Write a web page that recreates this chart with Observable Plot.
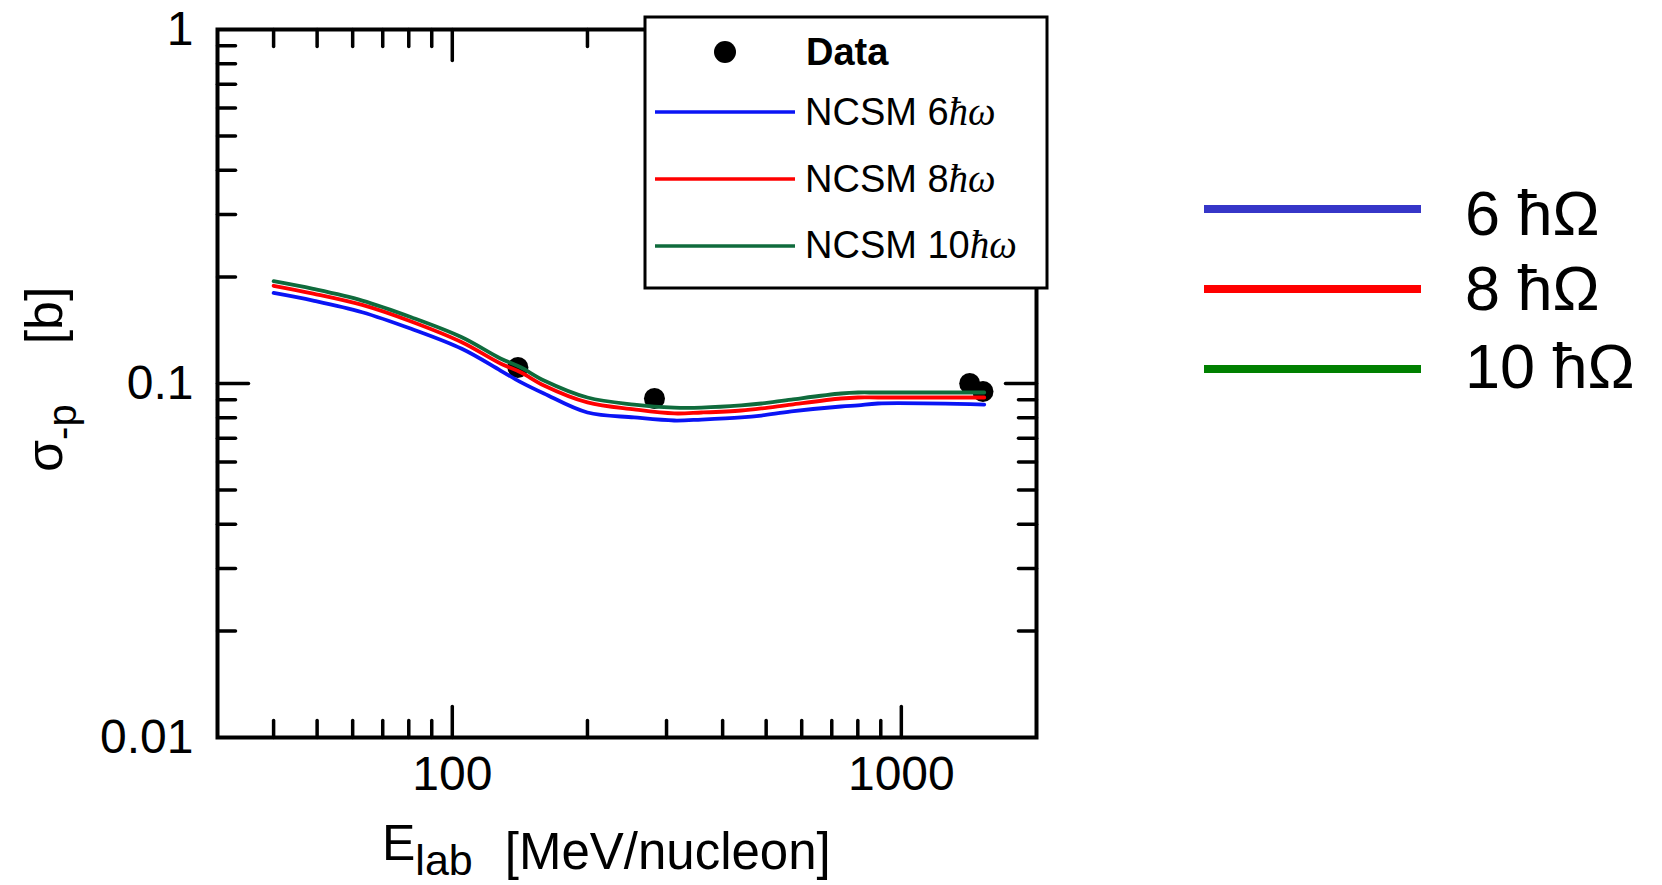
<!DOCTYPE html>
<html>
<head>
<meta charset="utf-8">
<script src="https://cdn.jsdelivr.net/npm/d3@7"></script>
<script src="https://cdn.jsdelivr.net/npm/@observablehq/plot@0.6"></script>
<style>
  html, body { margin: 0; padding: 0; background: #ffffff; }
  #chart svg { display: block; }
</style>
</head>
<body>
<div id="chart"></div>
<script>
// ---- data ----
const energies = [40, 49, 63, 81, 105, 128, 142, 160, 200, 254, 312, 359, 440, 488, 569, 734, 801, 887, 1530];
const sigma6  = [0.1802, 0.1715, 0.1590, 0.1427, 0.1253, 0.1088, 0.1009, 0.0937, 0.0828, 0.0802, 0.0786, 0.0791, 0.0802, 0.0812, 0.0834, 0.0861, 0.0867, 0.0878, 0.0872];
const sigma8  = [0.1888, 0.1795, 0.1667, 0.1497, 0.1308, 0.1139, 0.1076, 0.0987, 0.0884, 0.0845, 0.0823, 0.0828, 0.0839, 0.0850, 0.0872, 0.0907, 0.0913, 0.0913, 0.0913];
const sigma10 = [0.1945, 0.1850, 0.1715, 0.1539, 0.1351, 0.1177, 0.1111, 0.1020, 0.0913, 0.0872, 0.0855, 0.0855, 0.0867, 0.0878, 0.0901, 0.0937, 0.0943, 0.0943, 0.0943];
const dataE     = [140, 282, 1420, 1520];
const dataSigma = [0.111, 0.0907, 0.100, 0.0949];
const models = ["NCSM 6", "NCSM 8", "NCSM 10"];
const modelColors = ["#0a14f5", "#ff0000", "#0f6b3c"];
const sideLabels = ["6 ħΩ", "8 ħΩ", "10 ħΩ"];
const sideColors = ["#3636c8", "#ff0000", "#008000"];
const xTickLabels = [100, 1000];
const yTickLabels = [0.01, 0.1, 1];
const xMajorTicks = [100, 1000];
const xMinorTicks = [40, 50, 60, 70, 80, 90, 200, 300, 400, 500, 600, 700, 800, 900];
const yMajorTicks = [0.1];
const yMinorTicks = [0.02, 0.03, 0.04, 0.05, 0.06, 0.07, 0.08, 0.09, 0.2, 0.3, 0.4, 0.5, 0.6, 0.7, 0.8, 0.9];
const xDomain = [30, 2000];
const yDomain = [0.01, 1];

// ---- tables ----
const series = [sigma6, sigma8, sigma10];
const curves = [];
series.forEach((vals, k) => vals.forEach((v, i) => curves.push({E: energies[i], sigma: v, model: models[k]})));
const points = dataE.map((e, i) => ({E: e, sigma: dataSigma[i]}));

const tickShape = {draw(context, l) { context.moveTo(0, 0); context.lineTo(0, -l); }};
const tickStyle = {shape: tickShape, anchor: "start", stroke: "black", strokeWidth: 3.5};
const FONT = "'Liberation Sans', Arial, Helvetica, sans-serif";

const chart = Plot.plot({
  width: 1662,
  height: 885,
  marginLeft: 217,
  marginRight: 626,
  marginTop: 29,
  marginBottom: 148,
  style: {fontFamily: FONT, background: "white", color: "black"},
  x: {type: "log", domain: xDomain},
  y: {type: "log", domain: yDomain},
  color: {domain: models, range: modelColors},
  marks: [
    Plot.axisX({ticks: xTickLabels, tickSize: 0, tickPadding: 18, fontSize: 48, tickFormat: d => String(d), label: null}),
    Plot.axisY({ticks: yTickLabels, tickSize: 0, tickPadding: 24, fontSize: 48, tickFormat: d => String(d), label: null}),
    // inward ticks on all four sides
    Plot.vector(xMinorTicks, {x: d => d, frameAnchor: "bottom", length: 17, rotate: 0, ...tickStyle}),
    Plot.vector(xMajorTicks, {x: d => d, frameAnchor: "bottom", length: 31, rotate: 0, ...tickStyle}),
    Plot.vector(xMinorTicks, {x: d => d, frameAnchor: "top", length: 17, rotate: 180, ...tickStyle}),
    Plot.vector(xMajorTicks, {x: d => d, frameAnchor: "top", length: 31, rotate: 180, ...tickStyle}),
    Plot.vector(yMinorTicks, {y: d => d, frameAnchor: "left", length: 18, rotate: 90, ...tickStyle}),
    Plot.vector(yMajorTicks, {y: d => d, frameAnchor: "left", length: 31, rotate: 90, ...tickStyle}),
    Plot.vector(yMinorTicks, {y: d => d, frameAnchor: "right", length: 18, rotate: -90, ...tickStyle}),
    Plot.vector(yMajorTicks, {y: d => d, frameAnchor: "right", length: 31, rotate: -90, ...tickStyle}),
    Plot.frame({stroke: "black", strokeWidth: 4}),
    Plot.dot(points, {x: "E", y: "sigma", r: 10.5, fill: "black", stroke: "none"}),
    Plot.line(curves, {x: "E", y: "sigma", z: "model", stroke: "model", strokeWidth: 3.8, curve: "catmull-rom"})
  ]
});
document.getElementById("chart").appendChild(chart);

// ---- labels and legends ----
const svg = d3.select(chart);

// y-axis title  σ-p [b]
const yt = svg.append("text")
  .attr("transform", "translate(62,472) rotate(-90)")
  .attr("text-anchor", "start")
  .attr("font-family", FONT).attr("font-size", 52).attr("fill", "black");
yt.append("tspan").text("σ");
yt.append("tspan").attr("font-size", 40).attr("dy", 14).text("-p");
yt.append("tspan").attr("dy", -14).attr("dx", 60).text("[b]");

// x-axis title  E_lab [MeV/nucleon]
const xt = svg.append("text")
  .attr("x", 382).attr("y", 860)
  .attr("text-anchor", "start")
  .attr("font-family", FONT).attr("font-size", 50).attr("fill", "black");
xt.append("tspan").text("E");
xt.append("tspan").attr("font-size", 43).attr("dy", 15).text("lab");
xt.append("tspan").attr("font-size", 51).attr("dy", -6).attr("dx", 32).text("[MeV/nucleon]");

// inner legend box
const lg = svg.append("g").attr("text-anchor", "start");
lg.append("rect").attr("x", 645).attr("y", 17).attr("width", 402).attr("height", 271)
  .attr("fill", "white").attr("stroke", "black").attr("stroke-width", 3);
lg.append("circle").attr("cx", 725).attr("cy", 52).attr("r", 11).attr("fill", "black");
lg.append("text").attr("x", 806).attr("y", 65).attr("font-family", FONT)
  .attr("font-size", 38).attr("font-weight", "bold").attr("fill", "black").text("Data");
const lineYs = [112, 179, 246];
const baseYs = [125, 192, 258];
models.forEach((m, i) => {
  lg.append("line").attr("x1", 655).attr("x2", 795).attr("y1", lineYs[i]).attr("y2", lineYs[i])
    .attr("stroke", modelColors[i]).attr("stroke-width", 3.5);
  const t = lg.append("text").attr("x", 805).attr("y", baseYs[i]).attr("font-family", FONT)
    .attr("font-size", 38).attr("fill", "black");
  t.append("tspan").text(m);
  t.append("tspan").attr("font-family", "'Liberation Serif', 'DejaVu Serif', serif")
    .attr("font-style", "italic").attr("font-size", 39).text("ħω");
});

// right-hand legend
const rg = svg.append("g").attr("text-anchor", "start");
const sideLineYs = [209, 289, 369];
const sideBaseYs = [235, 310, 388];
sideLabels.forEach((s, i) => {
  rg.append("line").attr("x1", 1204).attr("x2", 1421).attr("y1", sideLineYs[i]).attr("y2", sideLineYs[i])
    .attr("stroke", sideColors[i]).attr("stroke-width", 8);
  rg.append("text").attr("x", 1465).attr("y", sideBaseYs[i]).attr("font-family", FONT)
    .attr("font-size", 63).attr("fill", "black").text(s);
});
</script>
</body>
</html>
